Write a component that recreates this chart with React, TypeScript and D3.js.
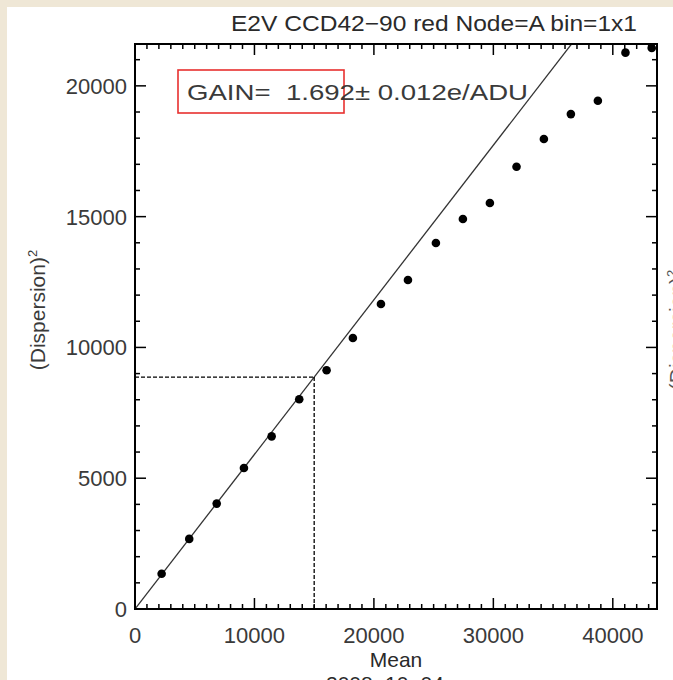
import React from 'react';
import * as d3 from 'd3';

// photon transfer points
const means = [2230, 4540, 6840, 9120, 11440, 13750, 16040, 18240, 20590, 22850, 25190, 27450, 29710, 31940, 34230, 36490, 38750, 41060, 43260];
const variances = [1350, 2680, 4030, 5390, 6600, 8020, 9130, 10360, 11660, 12580, 13990, 14910, 15520, 16910, 17970, 18920, 19430, 21270, 21450];
const xTicks = [0, 10000, 20000, 30000, 40000];
const yTicks = [0, 5000, 10000, 15000, 20000];
const gain = 1.692;
const gainErr = 0.012;
const refMean = 15000;

const W = 673;
const H = 680;
const FONT = '"Liberation Sans", Arial, Helvetica, sans-serif';

export default function App() {
  const left = 135, right = 657, top = 44, bottom = 609;
  const x = d3.scaleLinear().domain([0, 43700]).range([left, right]);
  const y = d3.scaleLinear().domain([0, 21600]).range([bottom, top]);

  const xMinor = d3.range(0, 43700, 1000);
  const yMinor = d3.range(0, 21600, 1000);

  const fitLine = d3.line<number>()
    .x(d => x(d))
    .y(d => y(d / gain));
  const refVar = refMean / gain;

  return (
    <div style={{ position: 'absolute', left: 0, top: 0 }}>
      <svg width={W} height={H} style={{ display: 'block', fontFamily: FONT }}>
        <defs>
          <clipPath id="plotClip">
            <rect x={left} y={top} width={right - left} height={bottom - top} />
          </clipPath>
        </defs>
        <rect width={W} height={H} fill="#efe7d6" />
        <rect x={7} y={7} width={W - 7} height={H - 7} fill="#fff" />

        {/* title */}
        <text x={231} y={31} fontSize={22} fill="#2a2a2a" textLength={406} lengthAdjust="spacingAndGlyphs">
          E2V CCD42−90 red Node=A bin=1x1
        </text>

        {/* fit line + reference dashes */}
        <g clipPath="url(#plotClip)">
          <path d={fitLine([0, 43700]) ?? ''} fill="none" stroke="#333" strokeWidth={1.3} />
          <line x1={x(0)} x2={x(refMean)} y1={y(refVar)} y2={y(refVar)} stroke="#000" strokeWidth={1.3} strokeDasharray="4,2" />
          <line x1={x(refMean)} x2={x(refMean)} y1={y(refVar)} y2={y(0)} stroke="#000" strokeWidth={1.3} strokeDasharray="4,2" />
        </g>

        {/* points */}
        <g fill="#000">
          {means.map((m, i) => (
            <circle key={i} cx={x(m)} cy={y(variances[i])} r={4.3} />
          ))}
        </g>

        {/* ticks, all pointing inward */}
        <g stroke="#000" strokeWidth={1.5}>
          {xMinor.map(v => {
            const len = v % 10000 === 0 ? 11 : 5;
            return (
              <g key={'x' + v}>
                <line x1={x(v)} x2={x(v)} y1={bottom} y2={bottom - len} />
                <line x1={x(v)} x2={x(v)} y1={top} y2={top + len} />
              </g>
            );
          })}
          {yMinor.map(v => {
            const len = v % 5000 === 0 ? 11 : 5;
            return (
              <g key={'y' + v}>
                <line x1={left} x2={left + len} y1={y(v)} y2={y(v)} />
                <line x1={right} x2={right - len} y1={y(v)} y2={y(v)} />
              </g>
            );
          })}
        </g>
        <rect x={left} y={top} width={right - left} height={bottom - top} fill="none" stroke="#000" strokeWidth={2} />

        {/* tick labels */}
        <g fontSize={22} fill="#3a3a3a">
          {xTicks.map(v => (
            <text key={v} x={x(v)} y={643} textAnchor="middle">{v}</text>
          ))}
          {yTicks.map(v => (
            <text key={v} x={127} y={y(v) + 8} textAnchor="end">{v}</text>
          ))}
        </g>

        {/* axis titles; the date and the neighbouring panel's label are cut by the frame edge, as in the source */}
        <text x={396} y={667} fontSize={21} fill="#2a2a2a" textAnchor="middle">Mean</text>
        <text x={385} y={691} fontSize={21} fill="#2a2a2a" textAnchor="middle">2008−10−04</text>
        <text transform="translate(45,310) rotate(-90)" fontSize={21} fill="#3a3a3a" textAnchor="middle">
          (Dispersion)<tspan dy={-8} fontSize={13}>2</tspan>
        </text>
        <text transform="translate(684,330) rotate(-90)" fontSize={21} fill="#555" textAnchor="middle">
          (Dispersion)<tspan dy={-8} fontSize={13}>2</tspan>
        </text>

        {/* gain annotation */}
        <rect x={178} y={70} width={166} height={43} fill="none" stroke="#e8302f" strokeWidth={1.6} />
        <text x={187} y={100} fontSize={22} fill="#3a3a3a" textLength={341} lengthAdjust="spacingAndGlyphs" style={{ whiteSpace: 'pre' }}>
          {`GAIN=  ${gain.toFixed(3)}± ${gainErr.toFixed(3)}e/ADU`}
        </text>
      </svg>
    </div>
  );
}
